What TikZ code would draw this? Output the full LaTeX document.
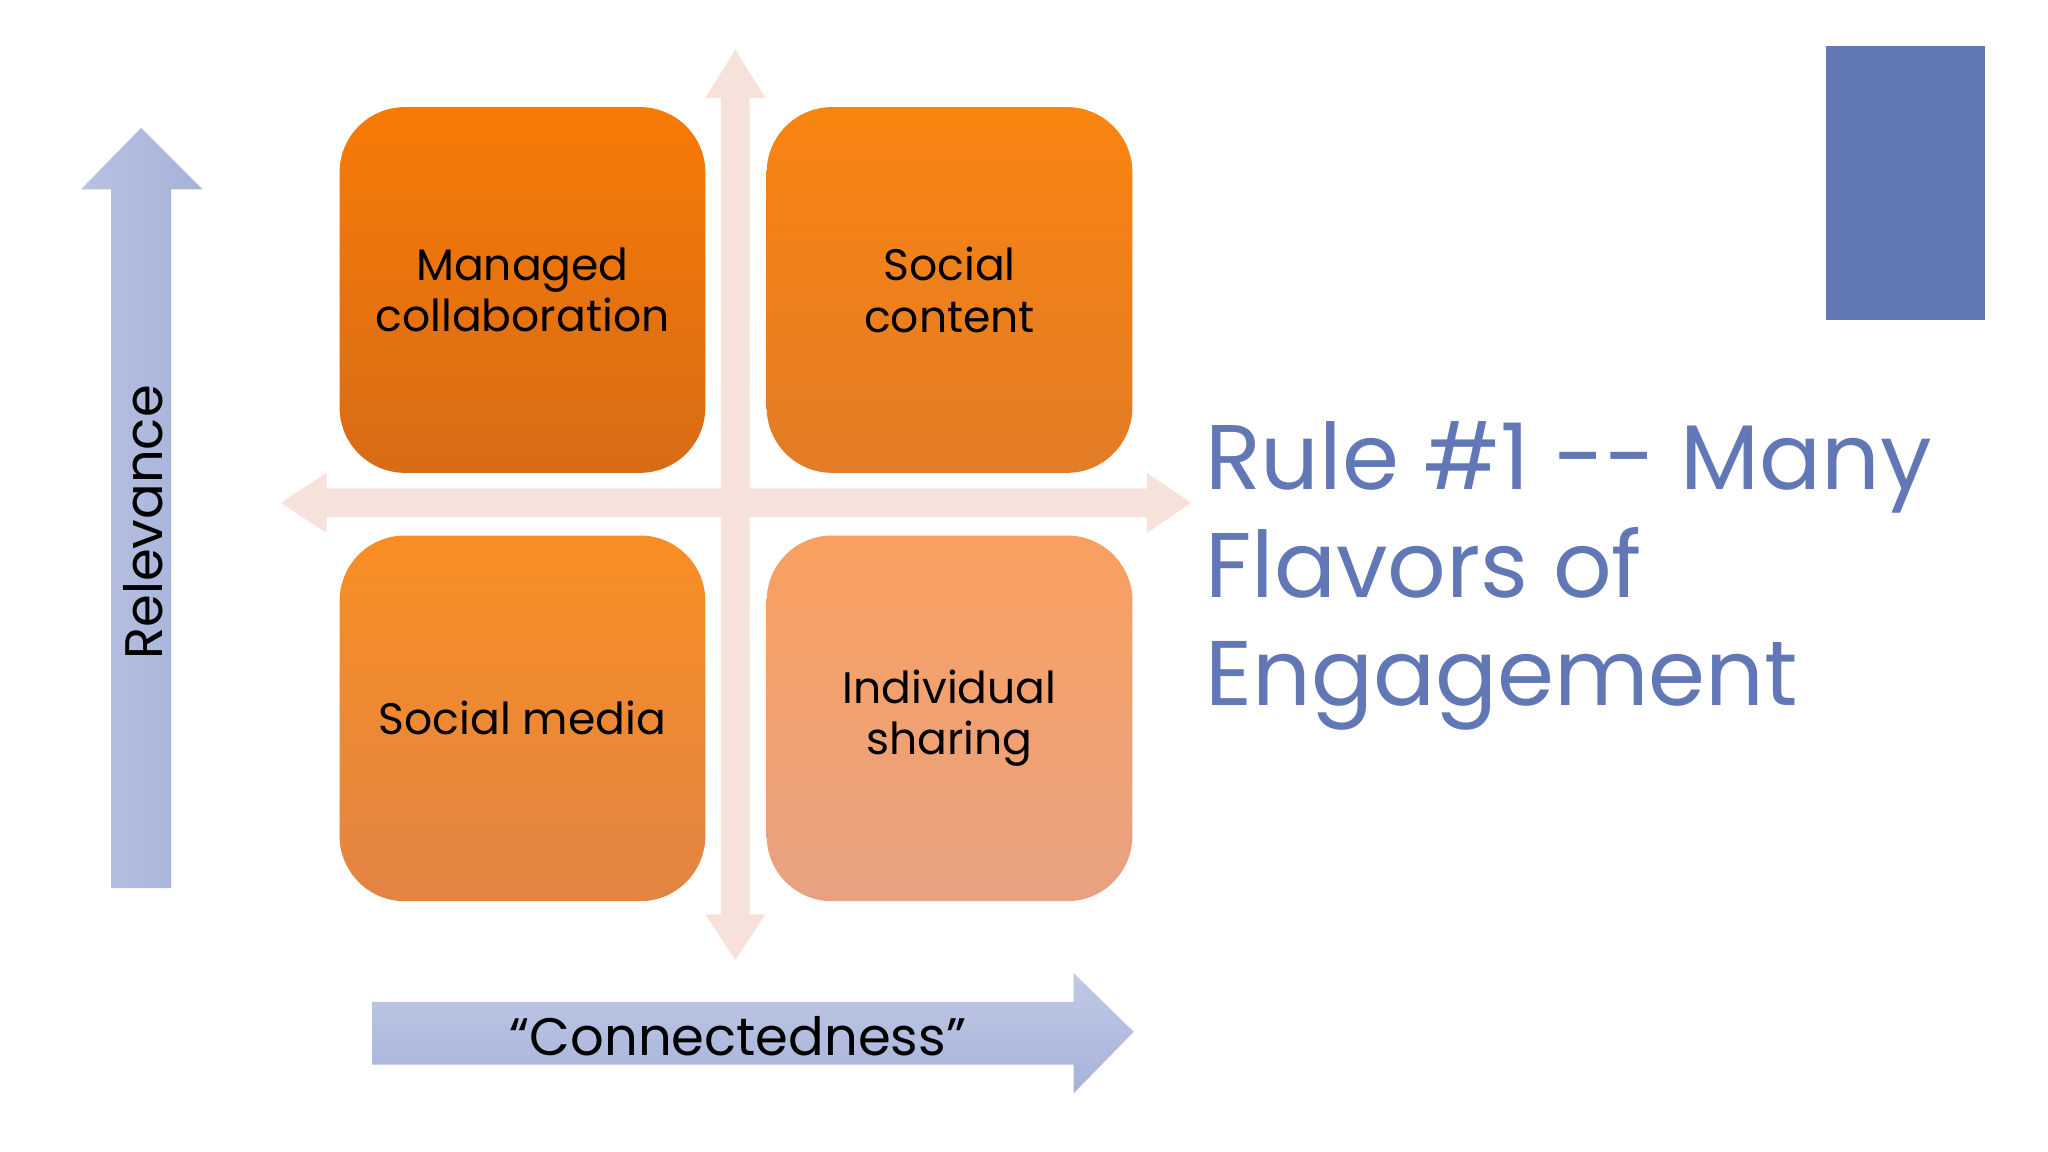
\documentclass[tikz,border=0pt]{standalone}
\usepackage{fontspec}
\setmainfont{Poppins}[Ligatures=NoCommon]
\usetikzlibrary{calc}
\definecolor{ttl}{HTML}{6277B5}
\definecolor{lav}{HTML}{A6B2DA}
\definecolor{pale}{HTML}{F6E2DA}
\begin{document}
\begin{tikzpicture}[x=0.1mm,y=-0.1mm,
  quad/.style={rounded corners=5mm,minimum width=28mm,minimum height=28mm,inner sep=0,font=\fontsize{9.6}{11.2}\selectfont,align=center,text=black},
  arr/.style={fill=#1,draw=none}]
\useasboundingbox (0,0) rectangle (1568,882);
\fill[white] (0,0) rectangle (1568,882);
% crosshair
\fill[pale] (552,75)--(540,75)--(563,38)--(586,75)--(574,75)--(574,700)--(586,700)--(563,735)--(540,700)--(552,700)--cycle;
\fill[pale] (250,374)--(250,362)--(215,385)--(250,408)--(250,396)--(878,396)--(878,408)--(912,385)--(878,362)--(878,374)--cycle;
% quadrants
\node[quad,top color={rgb,255:red,248;green,122;blue,5},bottom color={rgb,255:red,215;green,108;blue,22}] (mc) at (400,222) {Managed\\collaboration};
\node[quad,top color={rgb,255:red,249;green,132;blue,16},bottom color={rgb,255:red,226;green,124;blue,38}] (sc) at (727,222) {Social\\content};
\node[quad,top color={rgb,255:red,248;green,142;blue,35},bottom color={rgb,255:red,226;green,132;blue,68}] (sm) at (400,550) {Social media};
\node[quad,top color={rgb,255:red,249;green,160;blue,96},bottom color={rgb,255:red,232;green,162;blue,130}] (is) at (727,550) {Individual\\sharing};
% relevance arrow
\shade[left color=lav!80,right color=lav] (85,680)--(85,145)--(62,145)--(108,98)--(155,145)--(131,145)--(131,680)--cycle;
\node[rotate=90,font=\fontsize{11.5}{14}\selectfont] (rel) at (110,400) {Relevance};
% connectedness arrow
\shade[top color=lav!70,bottom color=lav] (285,767)--(822,767)--(822,745)--(868,790)--(822,837)--(822,815)--(285,815)--cycle;
\node[font=\fontsize{11.5}{14}\selectfont] (con) at (565,793) {“Connectedness”};
% blue rect
\fill[ttl] (1398,35) rectangle (1520,245);
\node[anchor=north west,align=left,text=ttl,font=\fontsize{20}{23.5}\selectfont,inner sep=0] (title) at (922,322) {Rule \#1 {-}{-} Many\\Flavors of\\Engagement};
\end{tikzpicture}
\end{document}
